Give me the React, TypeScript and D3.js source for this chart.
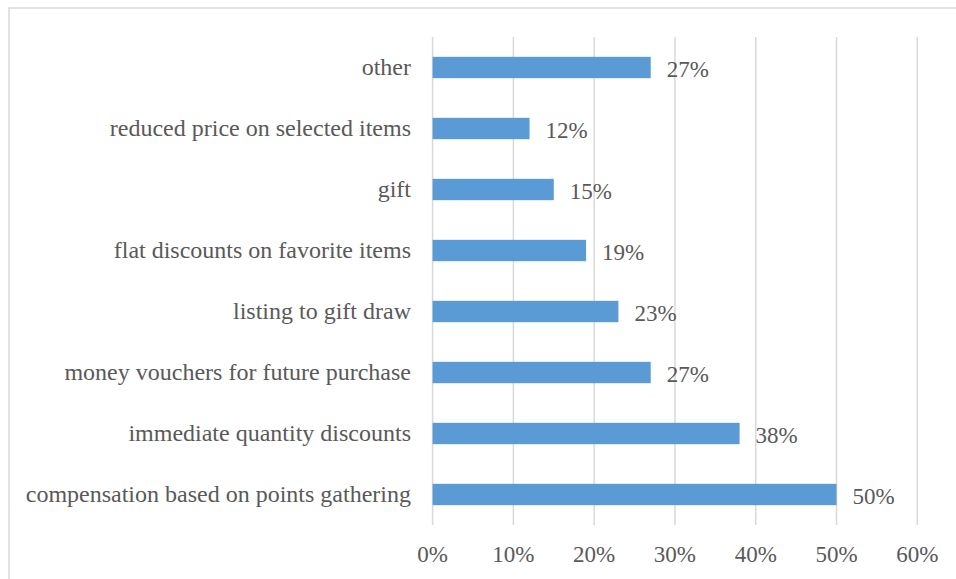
import React from "react";
import * as d3 from "d3";

const categories = [
  "other",
  "reduced price on selected items",
  "gift",
  "flat discounts on favorite items",
  "listing to gift draw",
  "money vouchers for future purchase",
  "immediate quantity discounts",
  "compensation based on points gathering",
];
const values = [27, 12, 15, 19, 23, 27, 38, 50];
const ticks = [0, 10, 20, 30, 40, 50, 60];

const W = 956;
const H = 579;
const left = 432.6;
const right = 917.3;
const top = 37;
const bottom = 525;
const FONT = '"Liberation Serif", "Times New Roman", Times, serif';
const TXT = "#595959";

export default function App() {
  const x = d3.scaleLinear().domain([0, 60]).range([left, right]);
  const y = d3.scaleBand().domain(categories).range([top, bottom]).paddingInner(0.65).paddingOuter(0.325);
  const band = d3.scaleBand().domain(categories).range([top, bottom]);
  const cs = { fontFamily: FONT, fontSize: "24px", fill: TXT } as React.CSSProperties;
  const ns = { fontFamily: FONT, fontSize: "23px", fill: TXT } as React.CSSProperties;
  return (
    <div style={{ position: "absolute", left: 0, top: 0 }}>
      <svg width={W} height={H} style={{ display: "block" }}>
        <rect x={0} y={0} width={W} height={H} fill="#fff" />
        <rect x={9} y={8} width={W + 20} height={H + 20} fill="none" stroke="#d9d9d9" strokeWidth={1.5} />
        {ticks.map((t) => (
          <line key={t} x1={x(t)} x2={x(t)} y1={top} y2={bottom} stroke="#d9d9d9" strokeWidth={1.5} />
        ))}
        {categories.map((c, i) => (
          <rect key={c} x={x(0)} y={y(c)!} width={x(values[i]) - x(0)} height={y.bandwidth()} fill="#5b9bd5" />
        ))}
        {categories.map((c, i) => (
          <text key={"v" + c} x={x(values[i]) + 16} y={band(c)! + band.bandwidth() / 2} dy="0.4em" style={ns}>
            {values[i]}%
          </text>
        ))}
        {categories.map((c) => (
          <text
            key={"c" + c}
            x={411}
            y={band(c)! + band.bandwidth() / 2}
            dy="0.33em"
            textAnchor="end"
            style={cs}
          >
            {c}
          </text>
        ))}
        {ticks.map((t) => (
          <text key={"t" + t} x={x(t)} y={562} textAnchor="middle" style={ns}>
            {t}%
          </text>
        ))}
      </svg>
    </div>
  );
}
